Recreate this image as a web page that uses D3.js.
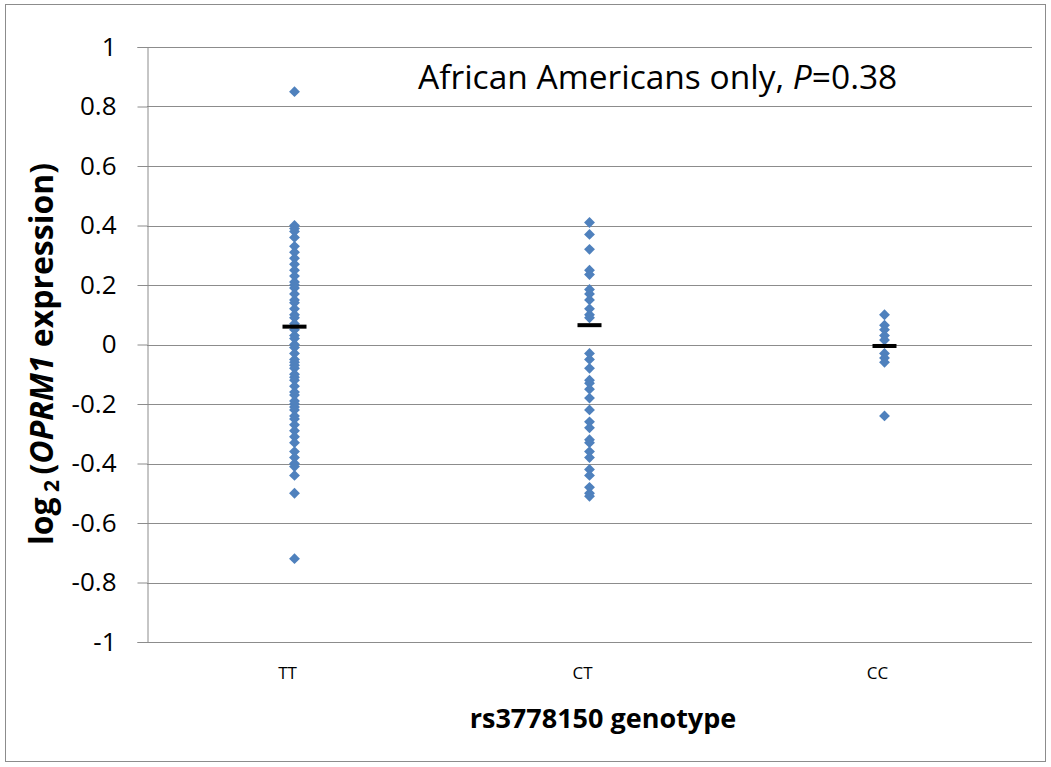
<!DOCTYPE html>
<html>
<head>
<meta charset="utf-8">
<script src="https://cdn.jsdelivr.net/npm/d3@7"></script>
<style>
body { margin: 0; background: #fff; }
text { font-family: "Open Sans", Lato, sans-serif; }
</style>
</head>
<body>
<div id="chart"></div>
<script>
// genotype groups
var genotypes = ["TT", "CT", "CC"];
// log2 OPRM1 expression, one value per subject
var ttValues = [0.85, 0.40, 0.39, 0.38, 0.36, 0.33, 0.31, 0.29, 0.27, 0.25, 0.23, 0.21, 0.20, 0.19,
  0.17, 0.15, 0.14, 0.12, 0.10, 0.09, 0.07, 0.06, 0.05, 0.03, 0.02, 0.00, -0.01, -0.03, -0.05,
  -0.06, -0.07, -0.08, -0.10, -0.11, -0.12, -0.14, -0.16, -0.17, -0.19, -0.20, -0.21, -0.22,
  -0.24, -0.25, -0.27, -0.29, -0.31, -0.33, -0.36, -0.38, -0.40, -0.41, -0.44, -0.50, -0.72];
var ctValues = [0.41, 0.37, 0.32, 0.25, 0.235, 0.185, 0.17, 0.15, 0.12, 0.10, 0.09,
  -0.03, -0.05, -0.08, -0.12, -0.13, -0.15, -0.18, -0.22, -0.26, -0.28, -0.32, -0.33,
  -0.36, -0.38, -0.42, -0.44, -0.48, -0.50, -0.51];
var ccValues = [0.10, 0.065, 0.05, 0.03, 0.015, -0.03, -0.045, -0.06, -0.24];
// group means (black bars)
var means = [0.06, 0.065, -0.005];
var yTicks = [1, 0.8, 0.6, 0.4, 0.2, 0, -0.2, -0.4, -0.6, -0.8, -1];

var width = 1051, height = 767;
var margin = {top: 47, right: 19, bottom: 125, left: 147};
var plotW = width - margin.left - margin.right;
var plotH = height - margin.top - margin.bottom;

var svg = d3.select("#chart").append("svg")
  .attr("width", width)
  .attr("height", height);

// outer frame
svg.append("rect")
  .attr("x", 5.5).attr("y", 4.5)
  .attr("width", 1040).attr("height", 757)
  .attr("fill", "none")
  .attr("stroke", "#8c8c8c")
  .attr("stroke-width", 1);

var g = svg.append("g")
  .attr("transform", "translate(" + margin.left + "," + margin.top + ")");

var x = d3.scalePoint()
  .domain(genotypes)
  .range([0, plotW])
  .padding(0.5);

var y = d3.scaleLinear()
  .domain([-1, 1])
  .range([plotH, 0]);

// gridlines
g.selectAll(".grid")
  .data(yTicks)
  .enter().append("line")
  .attr("x1", 0).attr("x2", plotW)
  .attr("y1", function(d) { return Math.round(y(d)) + 0.5; })
  .attr("y2", function(d) { return Math.round(y(d)) + 0.5; })
  .attr("stroke", "#8c8c8c")
  .attr("stroke-width", 1);

// Y axis (hyphen minus like the original)
var yAxis = g.append("g")
  .attr("transform", "translate(0.5,0)")
  .call(d3.axisLeft(y).tickValues(yTicks).tickSize(10).tickPadding(21)
    .tickFormat(function(d) { return String(+d.toFixed(1)); }));
yAxis.selectAll("path, line").attr("stroke", "#8c8c8c");
yAxis.selectAll("text")
  .attr("font-size", 26)
  .attr("fill", "#000")
  .style("font-family", "'Open Sans', sans-serif");

// category labels
g.selectAll(".cat")
  .data(genotypes)
  .enter().append("text")
  .attr("x", function(d) { return x(d) - 7; })
  .attr("y", plotH + 37)
  .attr("text-anchor", "middle")
  .attr("font-size", 17)
  .text(function(d) { return d; });

// points
var groups = [ttValues, ctValues, ccValues];
var diamond = d3.symbol().type(d3.symbolDiamond2).size(75);
groups.forEach(function(vals, i) {
  g.selectAll(".pt" + i)
    .data(vals)
    .enter().append("path")
    .attr("d", diamond)
    .attr("transform", function(d) {
      return "translate(" + x(genotypes[i]) + "," + y(d) + ")";
    })
    .attr("fill", "#4f81bd");
});

// mean bars
g.selectAll(".mean")
  .data(means)
  .enter().append("rect")
  .attr("x", function(d, i) { return x(genotypes[i]) - 12; })
  .attr("y", function(d) { return y(d) - 2; })
  .attr("width", 24)
  .attr("height", 4)
  .attr("fill", "#000");

// title inside plot
var title = svg.append("text")
  .attr("x", 418)
  .attr("y", 89)
  .attr("font-size", 33.5);
title.append("tspan").text("African Americans only, ");
title.append("tspan").attr("font-style", "italic").text("P");
title.append("tspan").text("=0.38");

// x axis title
svg.append("text")
  .attr("x", 603)
  .attr("y", 728)
  .attr("text-anchor", "middle")
  .attr("font-size", 27)
  .attr("font-weight", "bold")
  .text("rs3778150 genotype");

// y axis title
var yt = svg.append("text")
  .attr("transform", "translate(53,354) rotate(-90)")
  .attr("text-anchor", "middle")
  .attr("font-size", 32)
  .attr("font-weight", "bold");
yt.append("tspan").text("log");
yt.append("tspan").attr("font-size", 21).attr("dy", 6).text(" 2 ");
yt.append("tspan").attr("dy", -6).text("(");
yt.append("tspan").attr("font-style", "italic").text("OPRM1");
yt.append("tspan").text(" expression)");
</script>
</body>
</html>
